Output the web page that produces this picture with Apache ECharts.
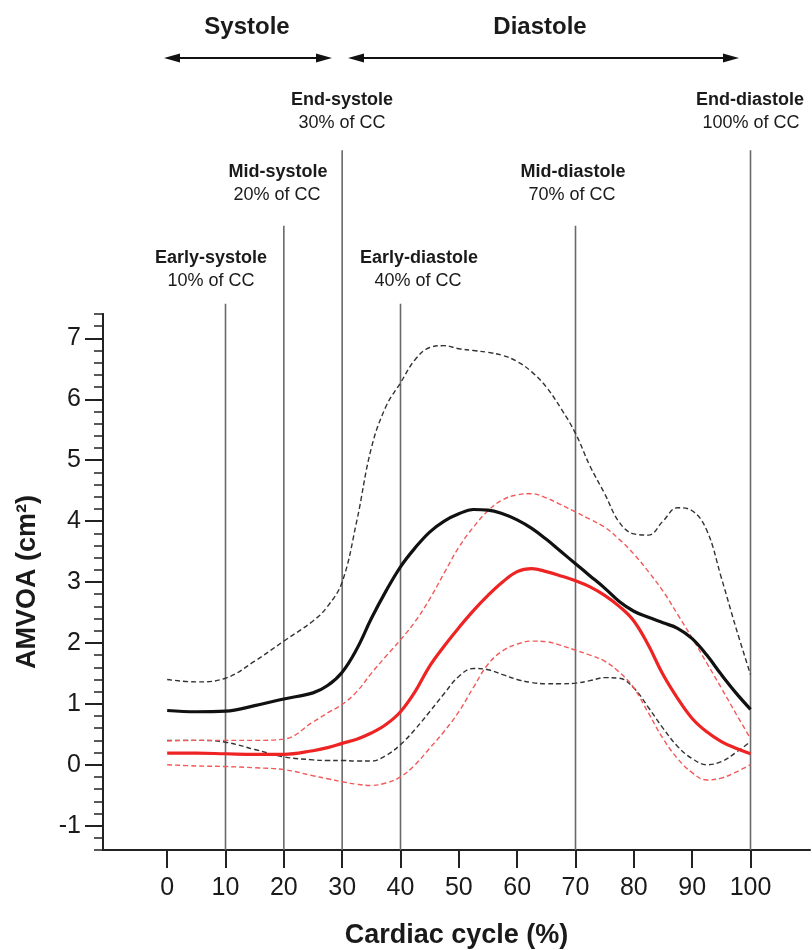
<!DOCTYPE html>
<html>
<head>
<meta charset="utf-8">
<script src="https://cdn.jsdelivr.net/npm/echarts@6/dist/echarts.min.js"></script>
<style>
  html, body { margin: 0; padding: 0; background: #fff; }
  #chart { width: 812px; height: 950px; }
</style>
</head>
<body>
<div id="chart"></div>
<script>
// cardiac cycle positions (%)
var cycle = [0, 5, 10, 15, 20, 25, 27.5, 30, 32.5, 35, 37.5, 40, 42.5, 45, 47.5, 50, 52.5, 55, 57.5, 60,
             62.5, 65, 67.5, 70, 72.5, 75, 77.5, 80, 82.5, 85, 87.5, 90, 92.5, 95, 97.5, 100];

// black group: mean and dashed band
var blackMean  = [0.89, 0.87, 0.88, 0.97, 1.08, 1.18, 1.3, 1.52, 1.9, 2.4, 2.85, 3.25, 3.56, 3.82, 4.0, 4.12, 4.19, 4.18,
                  4.12, 4.02, 3.88, 3.7, 3.5, 3.3, 3.1, 2.9, 2.68, 2.52, 2.42, 2.33, 2.24, 2.07, 1.8, 1.48, 1.18, 0.91];
var blackUpper = [1.4, 1.36, 1.42, 1.7, 2.03, 2.36, 2.6, 3.0, 4.0, 5.2, 5.88, 6.27, 6.65, 6.85, 6.88, 6.83, 6.8, 6.77,
                  6.72, 6.62, 6.45, 6.2, 5.85, 5.44, 4.9, 4.45, 3.98, 3.79, 3.77, 4.0, 4.22, 4.17, 3.85, 3.07, 2.25, 1.48];
var blackLower = [0.4, 0.4, 0.37, 0.25, 0.13, 0.08, 0.07, 0.07, 0.06, 0.06, 0.15, 0.33, 0.58, 0.87, 1.17, 1.45, 1.58, 1.56,
                  1.48, 1.4, 1.35, 1.33, 1.33, 1.34, 1.38, 1.43, 1.42, 1.26, 0.94, 0.6, 0.3, 0.1, 0.0, 0.05, 0.2, 0.38];

// red group: mean and dashed band
var redMean  = [0.19, 0.19, 0.18, 0.17, 0.17, 0.23, 0.28, 0.35, 0.42, 0.52, 0.66, 0.87, 1.2, 1.62, 1.95, 2.25, 2.53, 2.78,
                3.0, 3.17, 3.22, 3.17, 3.1, 3.02, 2.92, 2.78, 2.6, 2.36, 1.96, 1.48, 1.09, 0.76, 0.54, 0.38, 0.27, 0.18];
var redUpper = [0.39, 0.4, 0.4, 0.4, 0.42, 0.7, 0.85, 0.99, 1.2, 1.5, 1.78, 2.05, 2.35, 2.72, 3.15, 3.57, 3.9, 4.17,
                4.35, 4.43, 4.45, 4.38, 4.27, 4.15, 4.03, 3.9, 3.7, 3.46, 3.17, 2.85, 2.47, 2.08, 1.67, 1.26, 0.84, 0.43];
var redLower = [0.0, -0.02, -0.03, -0.05, -0.08, -0.18, -0.23, -0.28, -0.32, -0.34, -0.3, -0.2, 0.0, 0.27, 0.55, 0.87, 1.27, 1.65,
                1.87, 1.98, 2.03, 2.02, 1.96, 1.88, 1.8, 1.7, 1.52, 1.26, 0.85, 0.43, 0.1, -0.13, -0.25, -0.22, -0.12, 0.0];

// phase markers: position and top of line (axis units)
var phaseX   = [10, 20, 30, 40, 70, 100];
var phaseTop = [7.57, 8.85, 10.09, 7.57, 8.85, 10.09];

var xTicks = [0, 10, 20, 30, 40, 50, 60, 70, 80, 90, 100];
var yTicks = [-1, 0, 1, 2, 3, 4, 5, 6, 7];
var yMinorTicks = [];
for (var t = -14; t <= 74; t += 2) yMinorTicks.push(t / 10);

var FONT = "'Liberation Sans', Arial, Helvetica, sans-serif";

function pairs(ys) {
    return cycle.map(function (x, i) { return [x, ys[i]]; });
}

function curve(name, ys, color, width, dashed) {
    return {
        name: name,
        type: 'line',
        data: pairs(ys),
        smooth: 0.4,
        symbol: 'none',
        lineStyle: {
            color: color,
            width: width,
            type: dashed ? [5, 3] : 'solid'
        },
        z: dashed ? 3 : 4
    };
}

function label(text, x, y, bold, size) {
    return {
        type: 'text',
        style: {
            text: text,
            x: x,
            y: y,
            align: 'center',
            verticalAlign: 'middle',
            fontFamily: FONT,
            fontSize: size,
            fontWeight: bold ? 'bold' : 'normal',
            fill: '#1a1a1a'
        }
    };
}

function arrow(x1, x2, y) {
    return {
        type: 'group',
        children: [
            { type: 'line', shape: { x1: x1 + 10, y1: y, x2: x2 - 10, y2: y }, style: { stroke: '#111', lineWidth: 2 } },
            { type: 'polygon', shape: { points: [[x1, y], [x1 + 16, y - 4.5], [x1 + 16, y + 4.5]] }, style: { fill: '#111' } },
            { type: 'polygon', shape: { points: [[x2, y], [x2 - 16, y - 4.5], [x2 - 16, y + 4.5]] }, style: { fill: '#111' } }
        ]
    };
}

var chart = echarts.init(document.getElementById('chart'));

var axisLineStyle = { color: '#222', width: 2 };

var option = {
    animation: false,
    backgroundColor: '#fff',
    grid: { left: 103, right: 2, top: 314, bottom: 100, containLabel: false, outerBoundsMode: 'none' },
    xAxis: {
        type: 'value',
        min: -11,
        max: 110.2,
        name: 'Cardiac cycle (%)',
        nameLocation: 'middle',
        nameGap: 72,
        nameTextStyle: { fontFamily: FONT, fontSize: 27, fontWeight: 'bold', color: '#1a1a1a' },
        axisLine: { onZero: false, lineStyle: axisLineStyle },
        axisTick: { customValues: xTicks, length: 18, lineStyle: { color: '#222', width: 2 } },
        axisLabel: { customValues: xTicks, margin: 26, fontFamily: FONT, fontSize: 25, color: '#1a1a1a' },
        splitLine: { show: false }
    },
    yAxis: [{
        type: 'value',
        min: -1.4,
        max: 7.4,
        name: 'AMVOA (cm²)',
        nameLocation: 'middle',
        nameGap: 62,
        nameTextStyle: { fontFamily: FONT, fontSize: 27, fontWeight: 'bold', color: '#1a1a1a' },
        axisLine: { show: true, onZero: false, lineStyle: axisLineStyle },
        axisTick: { customValues: yTicks, length: 18, lineStyle: { color: '#222', width: 2 } },
        axisLabel: { customValues: yTicks, margin: 22, fontFamily: FONT, fontSize: 25, color: '#1a1a1a' },
        splitLine: { show: false }
    }, {
        type: 'value',
        position: 'left',
        min: -1.4,
        max: 7.4,
        axisLine: { show: true, onZero: false, lineStyle: axisLineStyle },
        axisTick: { customValues: yMinorTicks, length: 9, lineStyle: { color: '#222', width: 1.5 } },
        axisLabel: { show: false },
        splitLine: { show: false }
    }],
    graphic: [
        label('Systole', 247, 27, true, 24),
        label('Diastole', 540, 27, true, 24),
        arrow(164, 332, 58),
        arrow(348, 739, 58),
        label('End-systole', 342, 100, true, 18),
        label('30% of CC', 342, 123, false, 18),
        label('End-diastole', 750, 100, true, 18),
        label('100% of CC', 751, 123, false, 18),
        label('Mid-systole', 278, 172, true, 18),
        label('20% of CC', 277, 195, false, 18),
        label('Mid-diastole', 573, 172, true, 18),
        label('70% of CC', 572, 195, false, 18),
        label('Early-systole', 211, 258, true, 18),
        label('10% of CC', 211, 281, false, 18),
        label('Early-diastole', 419, 258, true, 18),
        label('40% of CC', 418, 281, false, 18)
    ],
    series: [
        {
            name: 'phases',
            type: 'custom',
            clip: false,
            z: 1,
            data: phaseX.map(function (x, i) { return [x, phaseTop[i]]; }),
            renderItem: function (params, api) {
                var top = api.coord([api.value(0), api.value(1)]);
                var bottom = api.coord([api.value(0), -1.4]);
                return {
                    type: 'line',
                    shape: { x1: top[0], y1: top[1], x2: bottom[0], y2: bottom[1] },
                    style: { stroke: '#6a6a6a', lineWidth: 1.6 }
                };
            }
        },
        curve('black upper', blackUpper, '#333', 1.4, true),
        curve('black lower', blackLower, '#333', 1.4, true),
        curve('red upper', redUpper, '#f25a5a', 1.4, true),
        curve('red lower', redLower, '#f25a5a', 1.4, true),
        curve('black mean', blackMean, '#111', 3.2, false),
        curve('red mean', redMean, '#ee2424', 3.2, false)
    ]
};

chart.setOption(option);
</script>
</body>
</html>
